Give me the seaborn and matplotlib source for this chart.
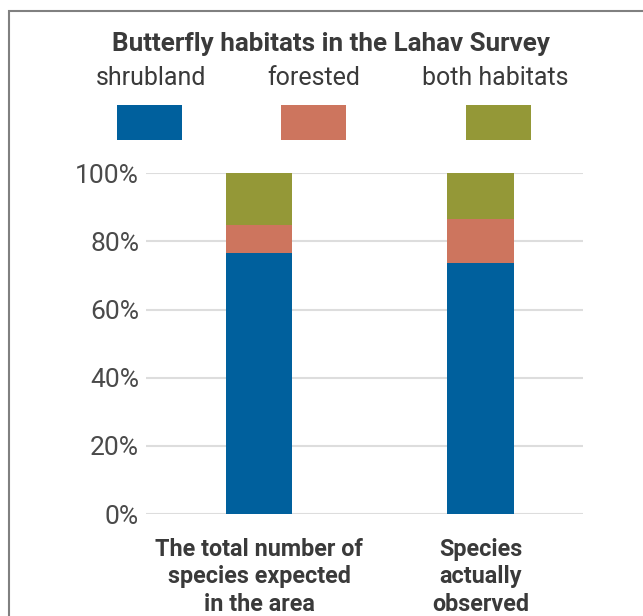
import numpy as np
import pandas as pd
import matplotlib
matplotlib.use("Agg")
import matplotlib.pyplot as plt
from matplotlib.patches import Rectangle
import seaborn as sns

categories = ["The total number of\nspecies expected\nin the area", "Species\nactually\nobserved"]
series_names = ["shrubland", "forested", "both habitats"]
shrubland = [76.7, 73.8]
forested = [8.1, 12.8]
both = [15.2, 13.4]
colors = ["#00609d", "#cd755e", "#949837"]
yticks = [0, 20, 40, 60, 80, 100]
ytick_labels = ["0%", "20%", "40%", "60%", "80%", "100%"]

sns.set_theme(style="white")
plt.rcParams['font.family'] = ['Roboto', 'DejaVu Sans']

W, H = 643, 616
fig = plt.figure(figsize=(W / 100, H / 100), dpi=100)
ax = fig.add_axes([146 / W, 1 - 514 / H, (583 - 146) / W, (514 - 173.3) / H])

df = pd.DataFrame({"cat": categories, "shrub": shrubland, "forest": forested, "both": both})
df["c1"] = df["shrub"]
df["c2"] = df["shrub"] + df["forest"]
df["c3"] = df["c2"] + df["both"]

for col, c in zip(["c3", "c2", "c1"], colors[::-1]):
    sns.barplot(data=df, x="cat", y=col, color=c, width=0.3, saturation=1,
                ax=ax, zorder=3, linewidth=0)

ax.set_xlim(-0.51, 1.463)
ax.set_ylim(0, 100)
ax.set_yticks(yticks)
ax.set_yticklabels(ytick_labels, fontsize=19, color="#4a4a4a")
ax.set_xticks([0, 1])
ax.set_xticklabels(categories, fontsize=16.8, fontweight="bold", color="#3a3a3a", linespacing=1.25)
ax.set_xlabel("")
ax.set_ylabel("")
ax.tick_params(axis="both", length=0)
ax.tick_params(axis="y", pad=5)
ax.tick_params(axis="x", pad=17)
for s in ax.spines.values():
    s.set_visible(False)
ax.yaxis.grid(True, color="#dddddd", linewidth=1.5, zorder=0)
ax.set_axisbelow(True)

# title
fig.text(331 / W, 1 - 44 / H, "Butterfly habitats in the Lahav Survey", ha="center", va="center",
         fontsize=18.7, fontweight="bold", color="#3a3a3a")

# legend: labels above swatches
label_x = [151, 314, 495]
rect_x = [117, 281, 466]
for name, c, lx, rx in zip(series_names, colors, label_x, rect_x):
    fig.text(lx / W, 1 - 78 / H, name, ha="center", va="center", fontsize=18, color="#3a3a3a")
    fig.patches.append(Rectangle((rx / W, 1 - 140 / H), 65 / W, 35 / H, transform=fig.transFigure,
                                 facecolor=c, edgecolor="none"))

# frame
fig.patches.append(Rectangle((9 / W, -0.1), 1.2, 1 - 11 / H + 0.1, transform=fig.transFigure,
                             facecolor="none", edgecolor="#808080", linewidth=1.5))

fig.savefig("out.png", dpi=100)
